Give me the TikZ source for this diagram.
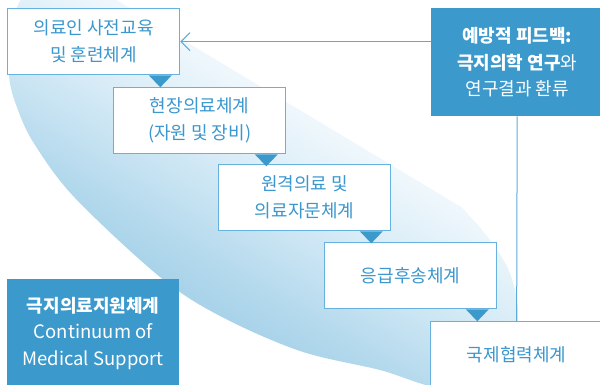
\documentclass[tikz,border=0pt]{standalone}
\usepackage{fontspec}
\setmainfont{Noto Sans CJK KR}
\usetikzlibrary{arrows.meta,calc}
\definecolor{boxline}{HTML}{66B1DE}
\definecolor{txtblue}{HTML}{3B97CD}
\definecolor{fillblue}{HTML}{3C99CC}
\definecolor{linkblue}{HTML}{5DAADA}
\definecolor{cA}{HTML}{8DC4E2}
\definecolor{cB}{HTML}{9CCCE6}
\definecolor{cC}{HTML}{B2D8EC}
\definecolor{cD}{HTML}{D8ECF7}
\pgfdeclareverticalshading{bgfade}{100bp}{color(0bp)=(cA); color(25bp)=(cB); color(40bp)=(cC); color(60bp)=(cD); color(85bp)=(white); color(100bp)=(white)}
\begin{document}
\begin{tikzpicture}[x=1pt,y=-1pt,
  stage/.style={draw=boxline, line width=1.3pt, fill=white, text=txtblue,
    minimum width=172pt, minimum height=66pt, anchor=north west, align=center,
    inner sep=0pt, font=\fontsize{18}{27}\selectfont},
  solidbox/.style={fill=fillblue, text=white, minimum width=172pt,
    minimum height=108pt, anchor=north west, align=center, inner sep=0pt,
    font=\fontsize{18}{26.5}\selectfont},
  tri/.style={fill=fillblue},
  link/.style={draw=linkblue, line width=1pt}]
\useasboundingbox (0,0) rectangle (600,385);
\begin{scope}
\clip (0,0) rectangle (600,385);
% background gradient shape
\begin{scope}
\clip plot[smooth cycle, tension=0.55] coordinates {(12,20) (9,75) (18,110) (35,145) (75,198) (160,277) (220,316) (300,351) (380,370) (445,388) (505,368) (518,320) (511,276) (490,240) (455,200) (395,135) (315,65) (225,12) (130,-18) (40,-15)};
\fill[white] (-50,-50) rectangle (650,450);
\begin{scope}[x=1pt,y=1pt,transform canvas={rotate=-31}]
\shade[shading=bgfade] (-100,-200) rectangle (800,60);
\end{scope}
\end{scope}
% stage boxes
\node[stage] (b1) at (7,8) {의료인 사전교육\\및 훈련체계};
\node[stage] (b2) at (113,87) {현장의료체계\\(자원 및 장비)};
\node[stage] (b3) at (218,164) {원격의료 및\\의료자문체계};
\node[stage] (b4) at (324,242) {응급후송체계};
\node[stage] (b5) at (430,321) {국제협력체계};
\foreach \b in {b1,b2,b3,b4}{
  \fill[tri] ([xshift=-31.5pt]\b.south east) -- ([xshift=-8.5pt]\b.south east) -- ([xshift=-20pt,yshift=-12pt]\b.south east) -- cycle;
}
% feedback box
\node[solidbox] (fb) at (431,8) {\textbf{예방적 피드백:}\\\textbf{극지의학 연구}와\\연구결과 환류};
% continuum box
\node[solidbox] (cs) at (7,279) {\textbf{극지의료지원체계}\\{\fontsize{18.5}{26.5}\selectfont Continuum of}\\{\fontsize{18.5}{26.5}\selectfont Medical Support}};
% connectors
\draw[link, -{Straight Barb[length=9pt,width=18pt]}] (fb.west |- b1.east) -- (b1.east);
\draw[link] (fb.south) -- (b5.north);
\end{scope}
\end{tikzpicture}
\end{document}
